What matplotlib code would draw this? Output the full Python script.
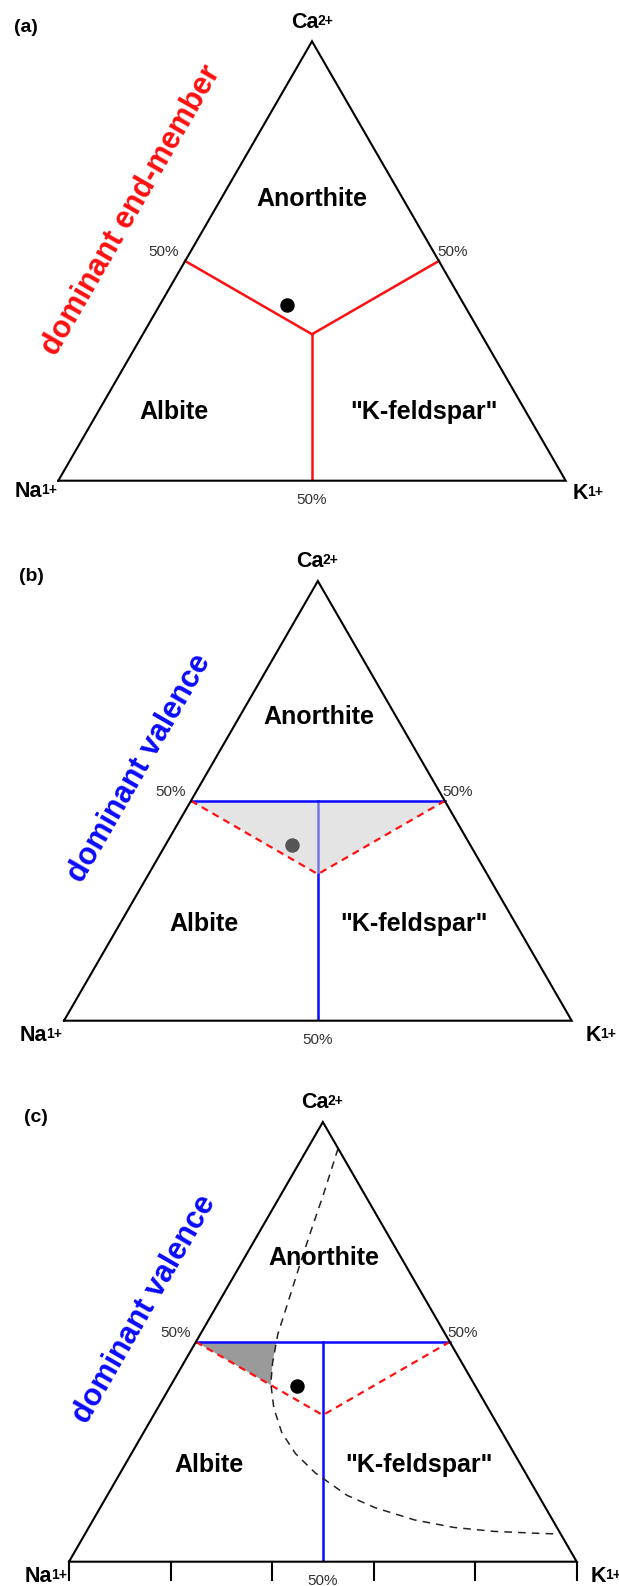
import matplotlib

matplotlib.use("Agg")
import matplotlib.pyplot as plt
import numpy as np

plt.rcParams["font.family"] = ["Liberation Sans", "DejaVu Sans"]

# compositions are (Ca, K) fractions, Na = 1 - Ca - K
vertex_names = ["Na", "Ca", "K"]
vertex_charges = ["1+", "2+", "1+"]
field_names = ["Anorthite", "Albite", '"K-feldspar"']
panel_tags = ["(a)", "(b)", "(c)"]
side_titles = ["dominant end-member", "dominant valence", "dominant valence"]
side_colors = ["#ff1010", "#0a0aff", "#0a0aff"]
sample_ca = 0.40
sample_k = 0.25
sample_colors = ["black", "#555555", "black"]
half = 0.5
tick_pcts = [0, 20, 40, 60, 80, 100]

# dashed boundary curve of panel (c)
curve_ca = [0.940, 0.833, 0.754, 0.675, 0.587, 0.516, 0.452, 0.405, 0.349, 0.294,
            0.246, 0.202, 0.151, 0.123, 0.095, 0.078, 0.069, 0.065, 0.063]
curve_k = [0.060, 0.084, 0.100, 0.117, 0.137, 0.153, 0.175, 0.195, 0.229, 0.272,
           0.323, 0.384, 0.472, 0.541, 0.633, 0.719, 0.802, 0.882, 0.933]

RED = "#ff1010"
BLUE = "#0a0aff"
H = np.sqrt(3) / 2

W_PX, H_PX = 619, 1586
# (Na vertex x, K vertex x, base y) in pixels for each panel
panel_boxes = [(58.3, 565.7, 480.7), (64.0, 571.7, 1020.7), (69.0, 576.7, 1561.7)]


def tern(ca, k):
    ca = np.asarray(ca, dtype=float)
    k = np.asarray(k, dtype=float)
    return k + ca / 2, ca * H


def crossing(xs, ys, f):
    # first point where f(x, y) changes sign along the polyline
    vals = f(xs, ys)
    for i in range(len(xs) - 1):
        if vals[i] == 0 or vals[i] * vals[i + 1] < 0:
            t = vals[i] / (vals[i] - vals[i + 1])
            return i, xs[i] + t * (xs[i + 1] - xs[i]), ys[i] + t * (ys[i + 1] - ys[i])
    return None


def ion_label(ax, pos, name, charge, ha):
    main = ax.text(pos[0], pos[1], name, fontsize=15.5, fontweight="bold", ha=ha, va="center")
    ax.annotate(charge, xy=(1.0, 0.92), xycoords=main, xytext=(-0.8, 0), textcoords="offset points",
                fontsize=10, fontweight="bold", ha="left", va="top")


fig = plt.figure(figsize=(W_PX / 100, H_PX / 100), dpi=100)

layout_a = {
    "tag": (-0.064, 0.894), "ca": (0.485, 0.903), "na": (-0.032, -0.022), "k": (1.014, -0.026),
    "bottom": (0.5, -0.038), "left50": (0.238, 0.451), "right50": (0.748, 0.451),
    "fields": [(0.5, 0.555), (0.228, 0.135), (0.72, 0.135)], "side": (0.145, 0.532),
}
layout_bc = {
    "tag": (-0.065, 0.874), "ca": (0.485, 0.904), "na": (-0.034, -0.030), "k": (1.028, -0.030),
    "bottom": (0.5, -0.038), "left50": (0.240, 0.450), "right50": (0.746, 0.450),
    "fields": [(0.502, 0.599), (0.275, 0.191), (0.689, 0.191)], "side": (0.148, 0.497),
}

for i, (na_x, k_x, base_y) in enumerate(panel_boxes):
    side = k_x - na_x
    ax = fig.add_axes([na_x / W_PX, 1 - base_y / H_PX, side / W_PX, side * H / H_PX])
    ax.set_xlim(0, 1)
    ax.set_ylim(0, H)
    ax.set_axis_off()
    lay = layout_a if i == 0 else layout_bc

    # triangle outline
    ox, oy = tern([0, 1, 0, 0], [0, 0, 1, 0])
    ax.plot(ox, oy, color="black", lw=1.5, solid_joinstyle="miter", clip_on=False, zorder=5)

    left_mid = tern(half, 0)
    right_mid = tern(half, half)
    bottom_mid = tern(0, half)
    centre = tern(1 / 3, 1 / 3)

    if i == 0:
        for p in (left_mid, right_mid, bottom_mid):
            ax.plot([p[0], centre[0]], [p[1], centre[1]], color=RED, lw=1.8, zorder=3)
    else:
        top_v = tern(half, half / 2)
        ax.plot([left_mid[0], right_mid[0]], [left_mid[1], right_mid[1]], color=BLUE, lw=1.8, zorder=4)
        ax.plot([top_v[0], bottom_mid[0]], [top_v[1], bottom_mid[1]], color=BLUE, lw=1.8, zorder=2)
        ax.plot([left_mid[0], centre[0], right_mid[0]], [left_mid[1], centre[1], right_mid[1]],
                color=RED, lw=1.6, ls=(0, (3.2, 2.4)), zorder=4)
        if i == 1:
            ax.fill([left_mid[0], right_mid[0], centre[0]], [left_mid[1], right_mid[1], centre[1]],
                    color="#cfcfcf", alpha=0.55, lw=0, zorder=3)
        else:
            cx, cy = tern(curve_ca, curve_k)
            ax.plot(cx, cy, color="#222222", lw=1.1, ls=(0, (5, 4)), zorder=4)
            # shaded piece between the 50 % line, the curve and the Na = Ca line
            i0, x0, y0 = crossing(cx, cy, lambda x, y: y - half * H)
            i1, x1, y1 = crossing(cx, cy, lambda x, y: (y / H) - (1 - (x - y / H / 2)) / 2)
            px = [left_mid[0], x0] + list(cx[i0 + 1:i1 + 1]) + [x1]
            py = [left_mid[1], y0] + list(cy[i0 + 1:i1 + 1]) + [y1]
            ax.fill(px, py, color="#9a9a9a", lw=0, zorder=3)
            # ticks on the Na-K side
            tlen = 18 / side
            for t in tick_pcts:
                tx = t / 100
                ax.plot([tx, tx], [0, -tlen], color="black", lw=1.5, clip_on=False, zorder=5)

    sx, sy = tern(sample_ca, sample_k)
    ax.plot([sx], [sy], "o", color=sample_colors[i], ms=9.4, zorder=6)

    # labels
    ax.text(*lay["tag"], panel_tags[i], fontsize=14, fontweight="bold", ha="center", va="center")
    ion_label(ax, lay["na"], vertex_names[0], vertex_charges[0], "right")
    ion_label(ax, lay["ca"], vertex_names[1], vertex_charges[1], "center")
    ion_label(ax, lay["k"], vertex_names[2], vertex_charges[2], "left")
    pct = f"{half * 100:.0f}%"
    ax.text(*lay["bottom"], pct, fontsize=11, color="#333333", ha="center", va="center")
    ax.text(*lay["left50"], pct, fontsize=11, color="#333333", ha="right", va="center")
    ax.text(*lay["right50"], pct, fontsize=11, color="#333333", ha="left", va="center")
    for name, pos in zip(field_names, lay["fields"]):
        ax.text(*pos, name, fontsize=18, fontweight="bold", ha="center", va="center", zorder=7)
    ax.text(*lay["side"], side_titles[i], fontsize=22, fontweight="bold", color=side_colors[i],
            rotation=60, rotation_mode="anchor", ha="center", va="center")

fig.savefig("out.png", dpi=100)
